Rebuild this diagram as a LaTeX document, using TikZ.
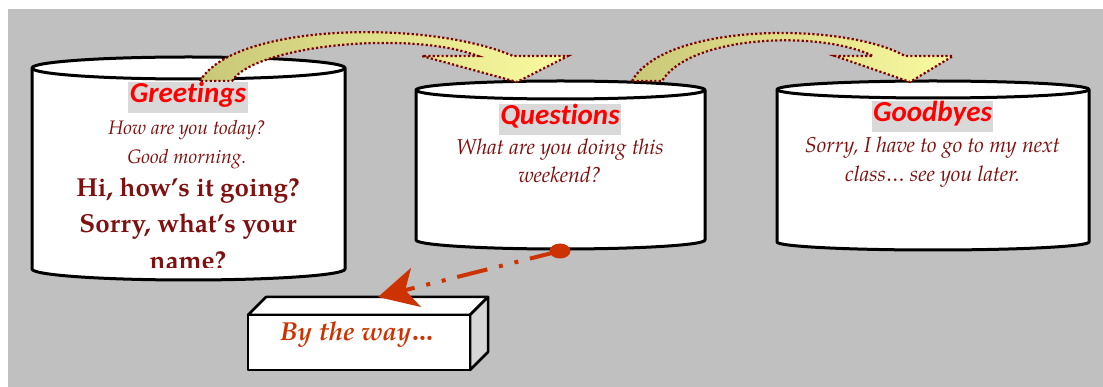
\documentclass[tikz,border=0pt]{standalone}
\usepackage{fontspec}
\setmainfont{TeX Gyre Pagella}
\newfontfamily\hdfont[Ligatures=NoCommon]{Carlito}
\usetikzlibrary{arrows.meta,shapes.geometric}
\definecolor{bg}{RGB}{192,192,192}
\definecolor{hl}{RGB}{217,217,217}
\definecolor{txt}{RGB}{128,16,16}
\definecolor{hdred}{RGB}{255,0,0}
\definecolor{conn}{RGB}{204,51,0}
\definecolor{bord}{RGB}{128,0,0}
\definecolor{khaki}{RGB}{200,200,120}
\definecolor{lyellow}{RGB}{250,250,160}
\definecolor{sideg}{RGB}{215,215,215}
\begin{document}
\begin{tikzpicture}[x=1pt,y=-1pt,
  cyl/.style={fill=white,draw=black,line width=3pt,line join=round},
  cylline/.style={draw=black,line width=3pt},
  hdr/.style={fill=hl,text=hdred,font=\hdfont\bfseries\itshape\fontsize{29}{31}\selectfont,
    inner xsep=1.5pt,inner ysep=0pt,text height=21pt,text depth=10pt,anchor=base},
  itl/.style={text=txt,font=\itshape\fontsize{19.5}{22}\selectfont,inner sep=0pt,anchor=base},
  itlb/.style={itl,font=\itshape\fontsize{21.5}{24}\selectfont},
  bld/.style={text=txt,font=\bfseries\fontsize{26}{30}\selectfont,inner sep=0pt,anchor=base},
  band/.style={left color=khaki,right color=lyellow,draw=bord,line width=2.2pt,
    dash pattern=on 2.2pt off 2.2pt,line join=miter},
  boxface/.style={fill=white,draw=black,line width=2.5pt,line join=round},
  conline/.style={draw=conn,line width=4pt,
    dash pattern=on 31pt off 12pt on 4pt off 12pt on 4pt off 12pt,
    -{Stealth[length=39pt,width=40pt,inset=11pt]}},
]
\useasboundingbox (0,0) rectangle (1103,387);
\fill[bg] (8,9) rectangle (1103,387);

% Greetings cylinder
\filldraw[cyl] (32,68) -- (32,269) arc[start angle=180,end angle=0,x radius=156.5,y radius=11]
  -- (345,68) arc[start angle=0,end angle=-180,x radius=156.5,y radius=11] -- cycle;
\draw[cylline] (32,68) arc[start angle=180,end angle=0,x radius=156.5,y radius=11];
% Questions cylinder
\filldraw[cyl] (416,90) -- (416,240) arc[start angle=180,end angle=0,x radius=144.5,y radius=9]
  -- (705,90) arc[start angle=0,end angle=-180,x radius=144.5,y radius=9] -- cycle;
\draw[cylline] (416,90) arc[start angle=180,end angle=0,x radius=144.5,y radius=9];
% Goodbyes cylinder
\filldraw[cyl] (777,89.5) -- (777,242) arc[start angle=180,end angle=0,x radius=156,y radius=8]
  -- (1089,89.5) arc[start angle=0,end angle=-180,x radius=156,y radius=8.5] -- cycle;
\draw[cylline] (777,89.5) arc[start angle=180,end angle=0,x radius=156,y radius=8.5];

% curved arrows
\path[band] (200,81) .. controls (235,22) and (430,20) .. (513,56) -- (568,56) -- (517,82)
  -- (422,56) -- (478,56) .. controls (410,30) and (255,45) .. (232,81) -- cycle;
\path[band] (632,81) .. controls (665,22) and (845,22) .. (905,56) -- (953,56) -- (910,82)
  -- (835,56) -- (873,56) .. controls (820,30) and (690,35) .. (662,81) -- cycle;

% Greetings text
\node[hdr] (gh) at (188,103) {Greetings};
\node[itl] (g1) at (187,135) {How are you today?};
\node[itl] (g2) at (187,164) {Good morning.};
\node[bld] (g3) at (188,197) {Hi, how’s it going?};
\node[bld] (g4) at (188,233) {Sorry, what’s your};
\begin{scope}
\clip (32,60) rectangle (345,268);
\node[bld] (g5) at (188,270) {name?};
\end{scope}

% Questions text
\node[hdr] (qh) at (560,125) {Questions};
\node[itlb] (q1) at (560,155) {What are you doing this};
\node[itlb] (q2) at (560,183) {weekend?};

% Goodbyes text
\node[hdr] (bh) at (932.5,122) {Goodbyes};
\node[itlb] (b1) at (932.5,153) {Sorry, I have to go to my next};
\node[itlb] (b2) at (932.5,182) {class… see you later.};

% By the way box
\filldraw[boxface] (248,315) -- (266,297) -- (488,297) -- (470,315) -- cycle;
\filldraw[boxface,fill=sideg] (470,315) -- (488,297) -- (488,352) -- (470,370) -- cycle;
\filldraw[boxface] (248,315) rectangle (470,370);
\node[text=conn,font=\bfseries\itshape\fontsize{26}{29}\selectfont,inner sep=0pt,anchor=base]
  (btw) at (357,341) {By the way…};

% connector
\coordinate (boxtip) at (378,297);
\node[ellipse,fill=conn,minimum width=21pt,minimum height=15pt,inner sep=0pt] (qdot) at (560,251) {};
\draw[conline] (qdot.center) -- (boxtip);
\end{tikzpicture}
\end{document}
